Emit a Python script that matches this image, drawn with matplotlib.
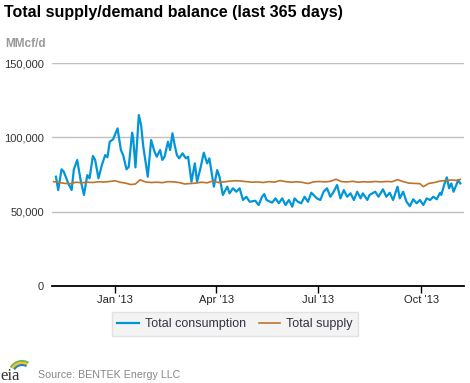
import pandas as pd
import matplotlib.pyplot as plt
from matplotlib.ticker import FuncFormatter
from matplotlib.patches import Arc
from datetime import datetime

# daily total consumption (thousand MMcf/d)
cons_dates = ["2012-11-09", "2012-11-11", "2012-11-14", "2012-11-16", "2012-11-20", "2012-11-23", "2012-11-25", "2012-11-28",
              "2012-12-01", "2012-12-04", "2012-12-07", "2012-12-09", "2012-12-12", "2012-12-14", "2012-12-17", "2012-12-20",
              "2012-12-23", "2012-12-25", "2012-12-27", "2012-12-30",
              "2013-01-03", "2013-01-06", "2013-01-08", "2013-01-11", "2013-01-13", "2013-01-16", "2013-01-17", "2013-01-19",
              "2013-01-22", "2013-01-24", "2013-01-26", "2013-01-30",
              "2013-02-02", "2013-02-05", "2013-02-07", "2013-02-10", "2013-02-12", "2013-02-14", "2013-02-17", "2013-02-19",
              "2013-02-21", "2013-02-23", "2013-02-25", "2013-02-27",
              "2013-03-02", "2013-03-05", "2013-03-07", "2013-03-10", "2013-03-13", "2013-03-15", "2013-03-18", "2013-03-21",
              "2013-03-24", "2013-03-26", "2013-03-30",
              "2013-04-02", "2013-04-04", "2013-04-07", "2013-04-11", "2013-04-13", "2013-04-16", "2013-04-19", "2013-04-22",
              "2013-04-25", "2013-04-28",
              "2013-05-01", "2013-05-06", "2013-05-09", "2013-05-12", "2013-05-14", "2013-05-16", "2013-05-21", "2013-05-24",
              "2013-05-27", "2013-05-30",
              "2013-06-02", "2013-06-05", "2013-06-08", "2013-06-10", "2013-06-13", "2013-06-16", "2013-06-19", "2013-06-22",
              "2013-06-25", "2013-06-27", "2013-06-30",
              "2013-07-03", "2013-07-06", "2013-07-09", "2013-07-12", "2013-07-15", "2013-07-18", "2013-07-21", "2013-07-24",
              "2013-07-27", "2013-07-30",
              "2013-08-02", "2013-08-05", "2013-08-08", "2013-08-10", "2013-08-14", "2013-08-16", "2013-08-21", "2013-08-24",
              "2013-08-28", "2013-08-31",
              "2013-09-03", "2013-09-06", "2013-09-10", "2013-09-12", "2013-09-15", "2013-09-18", "2013-09-21", "2013-09-24",
              "2013-09-27", "2013-09-30",
              "2013-10-03", "2013-10-06", "2013-10-09", "2013-10-12", "2013-10-15", "2013-10-18", "2013-10-19", "2013-10-22",
              "2013-10-24", "2013-10-26", "2013-10-28", "2013-10-30",
              "2013-11-02", "2013-11-03", "2013-11-05"]
cons_vals = [73.5, 64.5, 78.5, 76.9, 69.0, 64.5, 78.5, 84.8,
             71.3, 61.2, 74.6, 72.4, 87.5, 84.8, 72.4, 81.4, 88.1, 86.6, 97.1, 98.7,
             106.1, 91.5, 88.1, 78.5, 80.2, 103.2, 99.4, 79.8, 115.1, 108.4, 93.7, 73.5,
             98.2, 90.4, 87.0, 91.5, 84.8, 87.0, 97.1, 91.5, 102.8, 94.9, 88.1, 85.9,
             89.3, 85.9, 87.0, 70.1, 82.5, 70.1, 79.2, 89.7, 82.5, 85.9, 66.8,
             78.0, 73.5, 61.2, 66.8, 62.3, 65.7, 63.4, 65.7, 57.8, 60.0,
             56.6, 57.3, 54.4, 60.0, 61.8, 57.8, 56.0, 58.9, 55.6, 58.9,
             54.4, 57.8, 53.3, 58.9, 56.6, 55.6, 60.0, 56.6, 62.7, 61.2, 58.9,
             57.8, 63.4, 65.7, 60.0, 63.4, 67.9, 58.9, 64.5, 60.0, 62.3,
             57.8, 63.4, 58.9, 62.3, 57.8, 61.2, 63.4, 60.0, 65.0, 60.0,
             62.7, 57.8, 66.8, 58.9, 63.4, 56.6, 53.7, 58.3, 55.6, 57.8,
             54.4, 58.9, 57.8, 60.0, 58.3, 62.7, 61.2, 69.0, 73.1, 65.7, 69.0, 63.4,
             69.0, 71.3, 69.0]

# total supply (thousand MMcf/d)
sup_dates = ["2012-11-07", "2012-11-12", "2012-11-17", "2012-11-22", "2012-11-27", "2012-12-02", "2012-12-07", "2012-12-12",
             "2012-12-17", "2012-12-22", "2012-12-27", "2013-01-01", "2013-01-05", "2013-01-10", "2013-01-15", "2013-01-19",
             "2013-01-23", "2013-01-28", "2013-02-02", "2013-02-07", "2013-02-12", "2013-02-17", "2013-02-22", "2013-02-27",
             "2013-03-04", "2013-03-09", "2013-03-14", "2013-03-19", "2013-03-24", "2013-03-29", "2013-04-03", "2013-04-08",
             "2013-04-13", "2013-04-18", "2013-04-23", "2013-04-28", "2013-05-03", "2013-05-08", "2013-05-13", "2013-05-18",
             "2013-05-23", "2013-05-28", "2013-06-02", "2013-06-07", "2013-06-12", "2013-06-17", "2013-06-22", "2013-06-27",
             "2013-07-02", "2013-07-07", "2013-07-12", "2013-07-17", "2013-07-22", "2013-07-27", "2013-08-01", "2013-08-06",
             "2013-08-11", "2013-08-16", "2013-08-21", "2013-08-26", "2013-08-31", "2013-09-05", "2013-09-10", "2013-09-15",
             "2013-09-20", "2013-09-25", "2013-09-30", "2013-10-03", "2013-10-08", "2013-10-13", "2013-10-18", "2013-10-23",
             "2013-10-28", "2013-11-02", "2013-11-05"]
sup_vals = [70.2, 69.6, 69.0, 68.8, 69.8, 69.4, 69.8, 69.6,
            70.1, 69.9, 70.3, 70.8, 69.8, 69.2, 68.2, 68.6,
            71.4, 70.0, 69.6, 69.8, 69.5, 70.2, 70.0, 69.6,
            68.6, 68.9, 69.2, 69.8, 69.4, 70.6, 69.6, 70.0,
            70.5, 70.8, 70.6, 70.2, 69.8, 70.0, 69.6, 70.2,
            69.8, 70.9, 70.2, 69.8, 70.1, 69.7, 68.9, 70.0,
            70.3, 70.0, 70.4, 71.8, 70.2, 70.0, 70.4, 69.8,
            70.1, 69.9, 70.3, 70.0, 70.3, 70.1, 71.5, 70.2,
            69.2, 69.0, 68.8, 66.8, 69.0, 69.6, 70.6, 70.9,
            71.3, 71.0, 71.7]

yticks = [0, 50000, 100000, 150000]
xtick_dates = ["2013-01-01", "2013-04-01", "2013-07-01", "2013-10-01"]
xtick_labels = ["Jan '13", "Apr '13", "Jul '13", "Oct '13"]

blue = '#0096d7'
orange = '#bd732a'

plt.rcParams['font.family'] = ['Liberation Sans', 'DejaVu Sans']

fig = plt.figure(figsize=(4.7, 3.83), dpi=100)
ax = fig.add_axes([52.3 / 470, 1 - 285.7 / 383, 412 / 470, 222.4 / 383])

cd = pd.to_datetime(cons_dates)
sd = pd.to_datetime(sup_dates)
ax.plot(cd, [v * 1000 for v in cons_vals], color=blue, lw=1.6, label='Total consumption', zorder=3)
ax.plot(sd, [v * 1000 for v in sup_vals], color=orange, lw=1.2, label='Total supply', zorder=4)

ax.set_xlim(datetime(2012, 11, 5, 18), datetime(2013, 11, 8, 14))
ax.set_ylim(0, 150000)
ax.set_yticks(yticks)
ax.yaxis.set_major_formatter(FuncFormatter(lambda v, p: f"{int(v):,}"))
ax.set_xticks(pd.to_datetime(xtick_dates))
ax.set_xticklabels(xtick_labels)

ax.grid(axis='y', color='#c0c0c0', lw=1)
ax.set_axisbelow(True)
for s in ['top', 'right', 'left']:
    ax.spines[s].set_visible(False)
ax.spines['bottom'].set_color('black')
ax.spines['bottom'].set_linewidth(1.3)
ax.tick_params(axis='y', length=0, pad=6, labelsize=8, labelcolor='#333333')
ax.tick_params(axis='x', length=5, width=1, color='black', pad=2, labelsize=8, labelcolor='#222222')

fig.text(4 / 470, 1 - 12 / 383, 'Total supply/demand balance (last 365 days)', fontsize=11.5,
         fontweight='bold', va='center', ha='left', color='black')
fig.text(5 / 470, 1 - 44 / 383, 'MMcf/d', fontsize=8.5, fontweight='bold', color='#999999', va='center')

leg = fig.legend(loc='center', bbox_to_anchor=(235 / 470, 1 - 324 / 383), ncol=2, frameon=True,
                 fontsize=9, handlelength=1.7, handletextpad=0.5, columnspacing=1.0,
                 borderpad=0.45, fancybox=False)
leg.get_frame().set_facecolor('#f0f0f0')
leg.get_frame().set_edgecolor('#dddddd')
for t in leg.get_texts():
    t.set_color('#333344')

fig.text(38 / 470, 1 - 375 / 383, 'Source: BENTEK Energy LLC', fontsize=7.7, color='#888888', va='center')

# eia logo
fig.text(0, 1 - 376 / 383, 'eia', fontsize=12, family='Liberation Serif', color='#333333', va='center')
lax = fig.add_axes([0, 1 - 372 / 383, 30 / 470, 14 / 383])
lax.set_xlim(0, 30)
lax.set_ylim(0, 14)
lax.axis('off')
for r, c in [(13, '#7ab648'), (11, '#f2c12e'), (9, '#2c7fc0')]:
    lax.add_patch(Arc((22, -2), 2 * r, 2 * r, theta1=60, theta2=150, color=c, lw=1.5))

fig.savefig('out.png', dpi=100)
